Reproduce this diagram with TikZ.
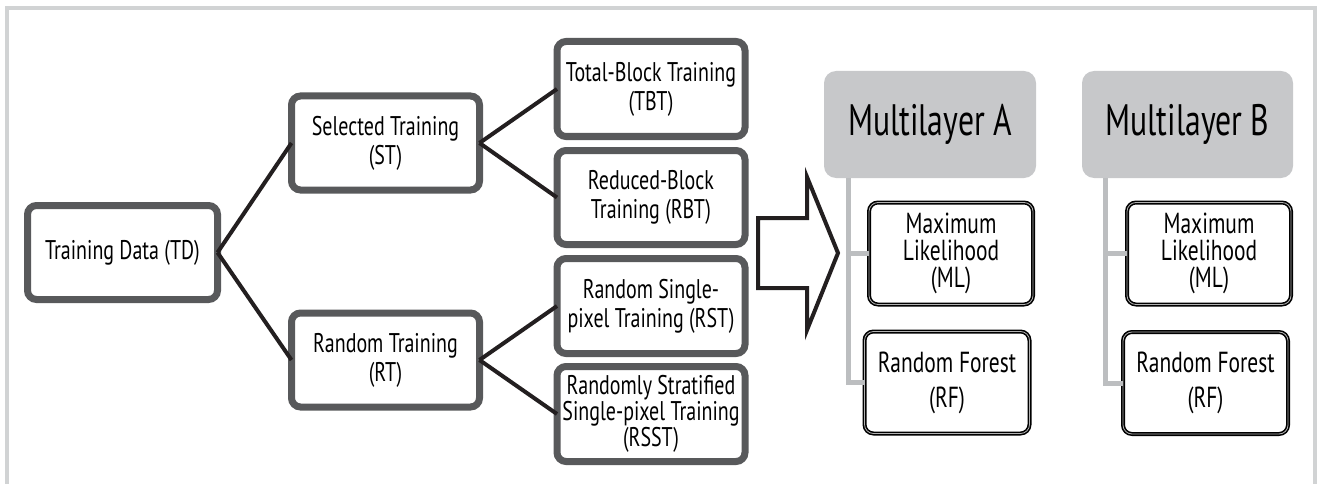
\documentclass[tikz,border=0pt]{standalone}
\usepackage{fontspec}
\setmainfont{PT Sans}[FakeStretch=0.74]
\newfontfamily\headfont{PT Sans}[FakeStretch=0.72]
\definecolor{boxgray}{HTML}{58595B}
\definecolor{linkblack}{HTML}{231F20}
\definecolor{headgray}{HTML}{C7C8CA}
\definecolor{treegray}{HTML}{BCBEC0}
\definecolor{framegray}{HTML}{D1D3D4}

\begin{document}
\begin{tikzpicture}[x=1pt, y=-1pt,
		tbox/.style={draw=boxgray, line width=7pt, rounded corners=9pt, fill=white, align=center,
			minimum width=188pt, minimum height=94pt, inner sep=0pt, outer sep=0pt,
			font=\fontsize{27}{29}\selectfont},
		head/.style={fill=headgray, rounded corners=12pt, minimum width=212pt, minimum height=107pt,
			inner sep=0pt, font=\headfont\fontsize{44}{50}\selectfont},
		cbox/.style={draw=black, double=gray!60, double distance=0.8pt, line width=1.6pt,
			rounded corners=9pt, fill=white, align=center, minimum width=165pt, minimum height=102pt,
			inner sep=0pt, outer sep=0pt, font=\fontsize{29}{27}\selectfont},
		link/.style={draw=linkblack, line width=4pt},
		tree/.style={draw=treegray, line width=5pt}]
		\useasboundingbox (0,0) rectangle (1319,484);

		\draw[framegray, line width=4pt] (7,484) -- (7,8) -- (1315,8) -- (1315,484);

		\node[tbox, minimum width=190pt] (td) at (122.5,252.5) {Training Data (TD)};
		\node[tbox] (st) at (385.5,143) {Selected Training\\(ST)};
		\node[tbox] (rt) at (385.5,360) {Random Training\\(RT)};

		\node[tbox, minimum height=95pt] (tbt) at (651,89) {Total-Block Training\\(TBT)};
		\node[tbox] (rbt) at (651,197.5) {Reduced-Block\\Training (RBT)};
		\node[tbox, minimum height=95pt] (rst) at (651,306) {Random Single-\\pixel Training (RST)};
		\node[tbox, minimum height=95pt, font=\fontsize{27}{26}\selectfont] (rsst) at (651,414)
			{Randomly Stratified\\Single-pixel Training\\(RSST)};

		\draw[link] (td.east) -- (st.west);
		\draw[link] (td.east) -- (rt.west);
		\draw[link] (st.east) -- (tbt.west);
		\draw[link] (st.east) -- (rbt.west);
		\draw[link] (rt.east) -- (rst.west);
		\draw[link] (rt.east) -- (rsst.west);

		% block arrow
		\draw[linkblack, line width=4pt, miter limit=20] (758,218) -- (807,218) -- (807,177) -- (838,253)
			-- (807,330) -- (807,288) -- (758,288) -- cycle;

		\node[head] (mla) at (930,124.5) {Multilayer A};
		\node[head, minimum width=211pt] (mlb) at (1187.5,124.5) {Multilayer B};

		\node[cbox, minimum width=164pt] (mla1) at (951,253.5) {Maximum\\Likelihood\\(ML)};
		\node[cbox, font=\fontsize{29}{35}\selectfont] (mla2) at (947,382.5) {Random Forest\\(RF)};
		\node[cbox, minimum width=164pt] (mlb1) at (1209,253.5) {Maximum\\Likelihood\\(ML)};
		\node[cbox, font=\fontsize{29}{35}\selectfont] (mlb2) at (1205.5,383) {Random Forest\\(RF)};

		\draw[tree] (mla.south -| 848,0) |- (mla2.west);
		\draw[tree] (848,0 |- mla1.west) -- (mla1.west);
		\draw[tree] (mlb.south -| 1105,0) |- (mlb2.west);
		\draw[tree] (1105,0 |- mlb1.west) -- (mlb1.west);
	\end{tikzpicture}
\end{document}
